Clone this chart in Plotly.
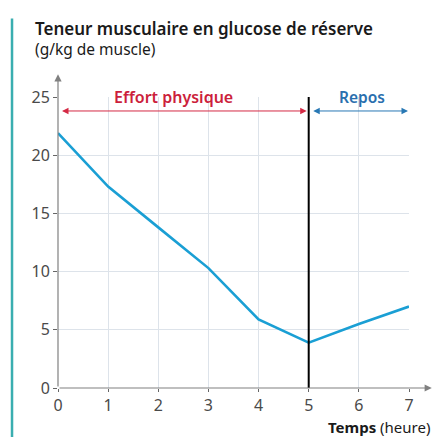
import plotly.graph_objects as go

temps = [0, 1, 2, 3, 4, 5, 6, 7]
glucose = [21.9, 17.3, 13.8, 10.3, 5.9, 3.9, 5.5, 7.0]
x_ticks = [0, 1, 2, 3, 4, 5, 6, 7]
y_ticks = [0, 5, 10, 15, 20, 25]
phase_limit = 5
arrow_level = 23.8

FONT = "Noto Sans"
GRID = "#dde3ea"
AXIS = "#666666"

fig = go.Figure()
fig.add_trace(go.Scatter(x=temps, y=glucose, mode="lines",
                         line=dict(color="#1a9fd4", width=2.6),
                         hoverinfo="skip", showlegend=False))

fig.update_layout(
    width=433, height=429,
    margin=dict(l=50, r=32, t=89, b=49),
    paper_bgcolor="white", plot_bgcolor="white",
    font=dict(family=FONT, color="#333333"),
    xaxis=dict(range=[0, 7], tickvals=x_ticks, showgrid=True, gridcolor=GRID, gridwidth=1,
               zeroline=False, showline=False, ticks="outside", ticklen=3, tickcolor=AXIS,
               tickfont=dict(size=16, color="#4a4a4a", family=FONT), fixedrange=True),
    yaxis=dict(range=[0, 25], tickvals=y_ticks, showgrid=True, gridcolor=GRID, gridwidth=1,
               zeroline=False, showline=False, ticks="outside", ticklen=4, tickcolor=AXIS,
               tickfont=dict(size=16, color="#4a4a4a", family=FONT), fixedrange=True),
)

# axes with arrows
fig.add_annotation(xref="x domain", yref="y domain", x=1.065, y=0, ax=0, ay=0,
                   axref="x domain", ayref="y domain", showarrow=True, arrowhead=2,
                   arrowsize=1.2, arrowwidth=1.2, arrowcolor="#808080", text="")
fig.add_annotation(xref="x domain", yref="y domain", x=0, y=1.078, ax=0, ay=0,
                   axref="x domain", ayref="y domain", showarrow=True, arrowhead=2,
                   arrowsize=1.2, arrowwidth=1.2, arrowcolor="#808080", text="")

# vertical separation line
fig.add_shape(type="line", xref="x", yref="y", x0=phase_limit, x1=phase_limit, y0=0, y1=25,
              line=dict(color="black", width=2))

# phase arrows
fig.add_annotation(xref="x", yref="y", x=phase_limit - 0.04, y=arrow_level,
                   ax=0.05, ay=arrow_level, axref="x", ayref="y", text="",
                   showarrow=True, arrowhead=2, startarrowhead=2, arrowside="end+start",
                   arrowsize=1.3, startarrowsize=1.3, arrowwidth=1, arrowcolor="#d42a45")
fig.add_annotation(xref="x", yref="y", x=6.98, y=arrow_level,
                   ax=phase_limit + 0.06, ay=arrow_level, axref="x", ayref="y", text="",
                   showarrow=True, arrowhead=2, startarrowhead=2, arrowside="end+start",
                   arrowsize=1.3, startarrowsize=1.3, arrowwidth=1, arrowcolor="#2878b4")
fig.add_annotation(xref="x", yref="y", x=2.31, y=25.0, text="Effort physique",
                   showarrow=False, font=dict(size=16, color="#cc1f3c", family=FONT, weight=600))
fig.add_annotation(xref="x", yref="y", x=6.07, y=25.0, text="Repos",
                   showarrow=False, font=dict(size=15.5, color="#2a6fae", family=FONT, weight=600))

# titles
fig.add_annotation(xref="paper", yref="paper", x=-0.072, y=1.234, xanchor="left", yanchor="middle",
                   text="Teneur musculaire en glucose de réserve", showarrow=False,
                   font=dict(size=17, color="#1a1a1a", family=FONT, weight=600))
fig.add_annotation(xref="paper", yref="paper", x=-0.072, y=1.165, xanchor="left", yanchor="middle",
                   text="(g/kg de muscle)", showarrow=False,
                   font=dict(size=15.5, color="#1a1a1a", family=FONT))
fig.add_annotation(xref="paper", yref="paper", x=1.065, y=-0.133, xanchor="right", yanchor="middle",
                   text="<b>Temps</b> (heure)", showarrow=False,
                   font=dict(size=15, color="#1a1a1a", family=FONT))

# left teal bracket
fig.add_shape(type="line", xref="paper", yref="paper", x0=-0.131, x1=-0.131, y0=-0.2, y1=1.27,
              line=dict(color="#3aaeb0", width=2.5))

fig.write_html("out.html")
